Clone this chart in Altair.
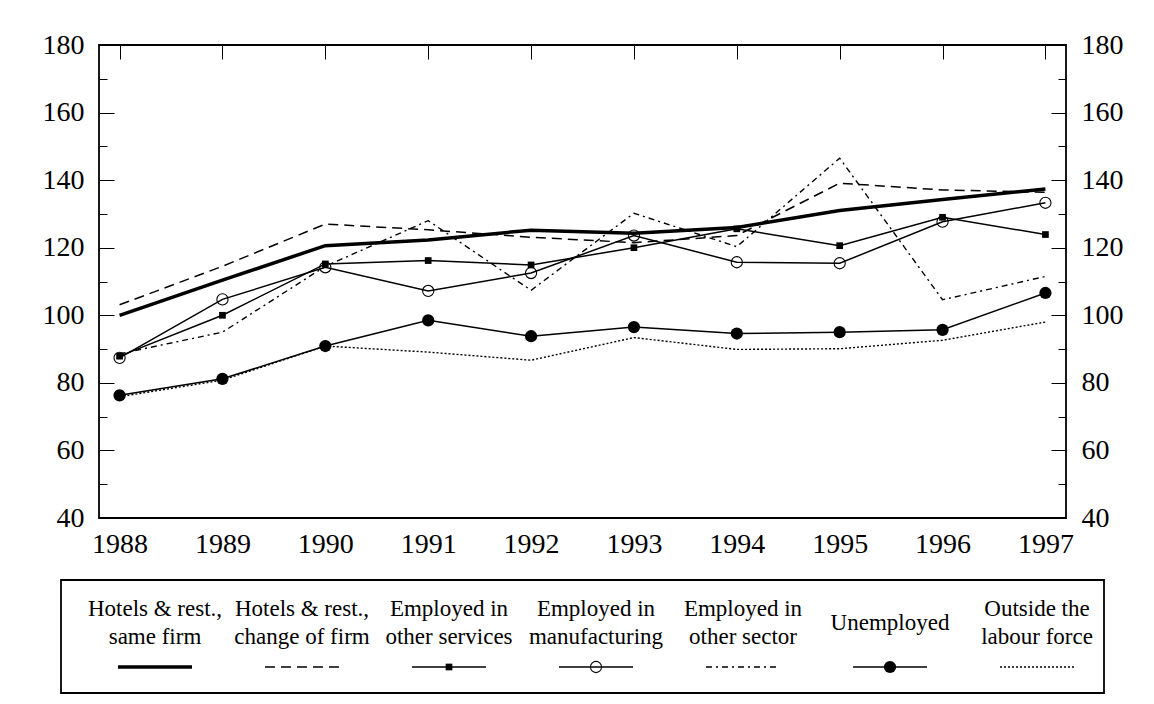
import altair as alt
import pandas as pd

# ---------------- data ----------------
years = [1988, 1989, 1990, 1991, 1992, 1993, 1994, 1995, 1996, 1997]

series_names = [
    "Hotels & rest., same firm",
    "Hotels & rest., change of firm",
    "Employed in other services",
    "Employed in manufacturing",
    "Employed in other sector",
    "Unemployed",
    "Outside the labour force",
]

legend_labels = [
    "Hotels & rest.,\nsame firm",
    "Hotels & rest.,\nchange of firm",
    "Employed in\nother services",
    "Employed in\nmanufacturing",
    "Employed in\nother sector",
    "Unemployed",
    "Outside the\nlabour force",
]

same_firm = [100.0, 110.4, 120.6, 122.3, 125.2, 124.3, 126.0, 131.0, 134.3, 137.4]
change_firm = [103.1, 114.5, 127.0, 125.3, 123.1, 121.5, 123.6, 139.1, 137.1, 136.4]
other_services = [87.9, 100.0, 115.2, 116.2, 114.9, 120.0, 125.6, 120.6, 129.0, 123.9]
manufacturing = [87.4, 104.7, 114.2, 107.2, 112.5, 123.6, 115.7, 115.4, 127.7, 133.3]
other_sector = [88.6, 95.0, 114.5, 128.0, 107.4, 130.2, 120.3, 146.5, 104.6, 111.5]
unemployed = [76.3, 81.2, 90.9, 98.5, 93.8, 96.5, 94.6, 95.0, 95.7, 106.6]
outside = [75.9, 80.8, 90.9, 89.1, 86.7, 93.4, 89.9, 90.1, 92.6, 98.0]

series_values = [same_firm, change_firm, other_services, manufacturing,
                 other_sector, unemployed, outside]

y_ticks = [40, 50, 60, 70, 80, 90, 100, 110, 120, 130, 140, 150, 160, 170, 180]

# ---------------- styles ----------------
line_styles = [
    {"strokeWidth": 3.5},
    {"strokeWidth": 1.5, "strokeDash": [10, 6]},
    {"strokeWidth": 1.5},
    {"strokeWidth": 1.5},
    {"strokeWidth": 1.4, "strokeDash": [6, 4, 2, 4]},
    {"strokeWidth": 1.5},
    {"strokeWidth": 1.4, "strokeDash": [2, 2]},
]
FONT = "Liberation Serif, Times New Roman, Times, DejaVu Serif, serif"

rows = []
for name, vals in zip(series_names, series_values):
    for yr, v in zip(years, vals):
        rows.append({"year": yr, "value": v, "series": name})
df = pd.DataFrame(rows)

leg_df = pd.DataFrame({"series": series_names, "label": legend_labels})

xs = alt.Scale(domain=[1987.8, 1997.2], nice=False, zero=False)
ys = alt.Scale(domain=[40, 180], nice=False, zero=False)

x_axis = alt.Axis(values=years, format="d", title=None, ticks=False, domain=False,
                  grid=True, gridColor="black", gridWidth=1, gridDash=[14, 3000],
                  labelFont=FONT, labelFontSize=28, labelColor="black",
                  labelPadding=12, labelFlush=False)

grid_dash = {"condition": {"test": "datum.value % 20 == 0", "value": [15, 3000]},
             "value": [8, 3000]}


def y_axis(orient):
    return alt.Axis(orient=orient, values=y_ticks, title=None, ticks=False, domain=False,
                    labelExpr="datum.value % 20 == 0 ? datum.label : ''",
                    grid=True, gridColor="black", gridWidth=1, gridDash=grid_dash,
                    labelFont=FONT, labelFontSize=28, labelColor="black",
                    labelPadding=15, labelOverlap=False)


base = alt.Chart(df)
layers = []
for i, (name, st) in enumerate(zip(series_names, line_styles)):
    layers.append(
        base.transform_filter(alt.datum.series == name).mark_line(color="black", **st).encode(
            x=alt.X("year:Q", scale=xs, axis=x_axis),
            y=alt.Y("value:Q", scale=ys, axis=y_axis("left") if i == 0 else None),
        )
    )

squares = base.transform_filter(alt.datum.series == series_names[2]).mark_point(
    shape="square", filled=True, size=45, color="black", opacity=1
).encode(
    x=alt.X("year:Q", scale=xs, axis=x_axis),
    y=alt.Y("value:Q", scale=ys, axis=y_axis("right")),
)

open_circles = base.transform_filter(alt.datum.series == series_names[3]).mark_point(
    shape="circle", filled=False, size=125, color="black", strokeWidth=1.1, opacity=1
).encode(
    x=alt.X("year:Q", scale=xs, axis=x_axis),
    y=alt.Y("value:Q", scale=ys, axis=None),
)

filled_circles = base.transform_filter(alt.datum.series == series_names[5]).mark_circle(
    size=150, color="black", opacity=1
).encode(
    x=alt.X("year:Q", scale=xs, axis=x_axis),
    y=alt.Y("value:Q", scale=ys, axis=None),
)

main = alt.layer(*layers, squares, open_circles, filled_circles).resolve_axis(
    y="independent"
).properties(width=967, height=473)

# ---------------- legend panel ----------------
LW, LH = 1043, 113
lxs = alt.Scale(type="point", domain=series_names, range=[94, 976], padding=0)
lbase = alt.Chart(leg_df)
lx = alt.X("series:N", scale=lxs, axis=None)

leg_layers = []
two_line = [n for n, l in zip(series_names, legend_labels) if "\n" in l]
one_line = [n for n, l in zip(series_names, legend_labels) if "\n" not in l]

leg_layers.append(
    lbase.transform_filter(alt.FieldOneOfPredicate(field="series", oneOf=two_line)).mark_text(
        font=FONT, fontSize=23, lineBreak="\n", lineHeight=28,
        baseline="alphabetic", align="center", color="black").encode(
        x=lx, y=alt.value(36), text="label:N")
)
leg_layers.append(
    lbase.transform_filter(alt.FieldOneOfPredicate(field="series", oneOf=one_line)).mark_text(
        font=FONT, fontSize=23, baseline="alphabetic", align="center", color="black").encode(
        x=lx, y=alt.value(50), text="label:N")
)

for name, st in zip(series_names, line_styles):
    leg_layers.append(
        lbase.transform_filter(alt.datum.series == name).mark_rule(
            color="black", xOffset=-37, x2Offset=37, **st).encode(
            x=lx, x2="series:N", y=alt.value(87))
    )

leg_layers.append(lbase.transform_filter(alt.datum.series == series_names[2]).mark_point(
    shape="square", filled=True, size=45, color="black", opacity=1).encode(
    x=lx, y=alt.value(87)))
leg_layers.append(lbase.transform_filter(alt.datum.series == series_names[3]).mark_point(
    shape="circle", filled=False, size=125, color="black", strokeWidth=1.1, opacity=1).encode(
    x=lx, y=alt.value(87)))
leg_layers.append(lbase.transform_filter(alt.datum.series == series_names[5]).mark_circle(
    size=150, color="black", opacity=1).encode(
    x=lx, y=alt.value(87)))

legend = alt.layer(*leg_layers).properties(width=LW, height=LH)

chart = alt.vconcat(main, legend, spacing=62, center=True, bounds="flush").properties(
    padding={"left": 33, "top": 22, "right": 5, "bottom": 5},
    background="white",
).configure_view(stroke="black", strokeWidth=1.8)

chart.save("out.html", embed_options={"renderer": "svg", "actions": False})
